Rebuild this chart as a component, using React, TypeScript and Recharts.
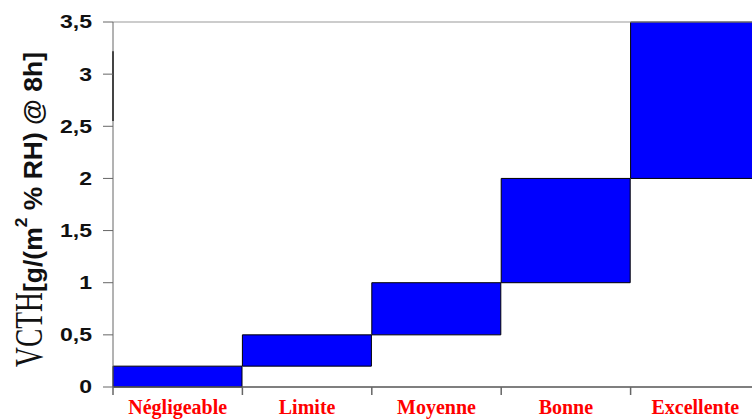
import { BarChart, Bar, XAxis, YAxis, ReferenceLine } from 'recharts';

const categories = ['Négligeable', 'Limite', 'Moyenne', 'Bonne', 'Excellente'];
const lowValues = [0, 0.2, 0.5, 1, 2];
const highValues = [0.2, 0.5, 1, 2, 3.5];
const yTicks = [0, 0.5, 1, 1.5, 2, 2.5, 3, 3.5];

const data = categories.map((name, i) => ({
  name,
  range: [lowValues[i], highValues[i]],
}));

const fmt = (v: number) => String(v).replace('.', ',');

function YTick(props: any) {
  const { x, y, payload } = props;
  return (
    <text
      transform={`translate(${x},${y}) scale(1.28,1)`}
      textAnchor="end"
      dy="0.36em"
      fontSize={18}
      fontWeight="bold"
      fontFamily="'Liberation Sans', Arial, sans-serif"
      fill="#111"
    >
      {fmt(payload.value)}
    </text>
  );
}

function XTick(props: any) {
  const { x, y, payload } = props;
  const half = payload.offset || 64.75;
  return (
    <g>
      <line x1={x - half} y1={y} x2={x - half} y2={y + 8} stroke="#666" strokeWidth={1.5} />
      <text
        x={x}
        y={y + 27}
        textAnchor="middle"
        fontSize={20}
        fontWeight="bold"
        fontFamily="'Liberation Serif', 'Times New Roman', serif"
        fill="#ff0000"
      >
        {payload.value}
      </text>
    </g>
  );
}

function YLabel() {
  return (
    <g transform="rotate(-90)">
      <text
        x={-367}
        y={42}
        fontSize={40}
        fontFamily="'Liberation Serif', 'Times New Roman', serif"
        fill="#111"
        textLength={75}
        lengthAdjust="spacingAndGlyphs"
      >
        VCTH
      </text>
      <text
        x={-292}
        y={42}
        fontSize={26}
        fontWeight="bold"
        fontFamily="'Liberation Sans', Arial, sans-serif"
        fill="#111"
        textLength={240}
        lengthAdjust="spacingAndGlyphs"
      >
        [g/(m
        <tspan fontSize={17} dy={-15}>2</tspan>
        <tspan dy={15}> % RH) @ 8h]</tspan>
      </text>
    </g>
  );
}

export default function App() {
  return (
    <div style={{ position: 'absolute', left: 0, top: 0, width: 752, height: 419, overflow: 'hidden', background: '#fff' }}>
      <BarChart
        width={770}
        height={419}
        data={data}
        margin={{ top: 22, right: 10, bottom: 0, left: 0 }}
        barCategoryGap={0}
      >
        <XAxis
          dataKey="name"
          height={32}
          tickSize={0}
          tickMargin={0}
          tick={<XTick />}
          axisLine={{ stroke: '#555', strokeWidth: 1.5 }}
          tickLine={false}
          interval={0}
        />
        <YAxis
          width={113}
          domain={[0, 3.5]}
          ticks={yTicks}
          tickSize={10}
          tickMargin={11}
          tick={<YTick />}
          axisLine={{ stroke: '#666' }}
          tickLine={{ stroke: '#666' }}
          interval={0}
          label={<YLabel />}
        />
        <ReferenceLine y={3.5} stroke="#999" />
        <Bar dataKey="range" fill="#0000ff" stroke="#000" strokeWidth={1} isAnimationActive={false} />
        <ReferenceLine
          segment={[{ x: 'Négligeable', y: 3.22 }, { x: 'Négligeable', y: 2.55 }]}
          position="start"
          stroke="#222"
          strokeWidth={2}
        />
      </BarChart>
    </div>
  );
}
